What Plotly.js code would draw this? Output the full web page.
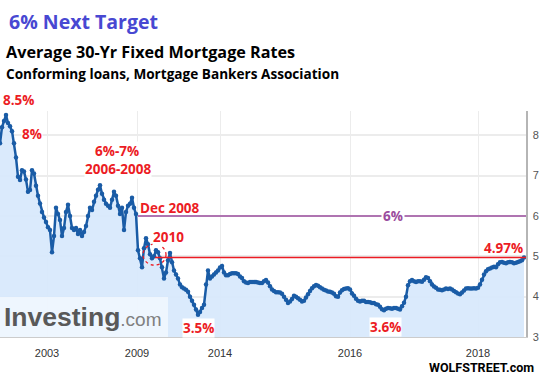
<!DOCTYPE html>
<html>
<head>
<meta charset="utf-8">
<script src="https://cdn.plot.ly/plotly-3.0.1.min.js"></script>
<style>html,body{margin:0;padding:0;background:#fff;}#chart{width:543px;height:382px;}</style>
</head>
<body>
<div id="chart"></div>
<script>
// Average 30-yr fixed mortgage rate (%), samples (evenly spaced along the source's axis)
const rates = [
  7.8, 8.2, 8.35, 8.5, 8.3, 8.22, 8.1, 7.8, 7.45, 6.97,
  6.89, 7.13, 7.1, 6.9, 6.6, 6.64, 7.13, 7.05, 6.75, 6.5,
  6.31, 6.1, 5.96, 5.85, 5.72, 5.65, 5.1, 5.5, 6.2, 6.05,
  5.9, 5.5, 5.7, 6.1, 6.28, 6.0, 5.7, 5.65, 5.7, 5.55,
  5.65, 5.5, 5.6, 5.75, 6.0, 6.2, 6.15, 6.35, 6.5, 6.65,
  6.76, 6.55, 6.4, 6.3, 6.25, 6.2, 6.4, 6.6, 6.5, 6.25,
  6.05, 6.2, 5.65, 6.1, 6.25, 6.3, 6.45, 6.2, 6.05, 5.15,
  4.95, 4.73, 5.2, 5.45, 5.3, 5.05, 4.95, 5.0, 5.15, 5.1,
  4.95, 4.73, 4.45, 4.6, 4.9, 5.08, 4.85, 4.65, 4.55, 4.45,
  4.3, 4.23, 4.2, 4.17, 4.12, 4.0, 3.9, 3.8, 3.68, 3.55,
  3.62, 3.72, 3.8, 4.3, 4.65, 4.45, 4.5, 4.55, 4.6, 4.65,
  4.72, 4.76, 4.6, 4.53, 4.53, 4.56, 4.58, 4.58, 4.58, 4.56,
  4.5, 4.46, 4.38, 4.35, 4.34, 4.36, 4.36, 4.36, 4.36, 4.35,
  4.34, 4.34, 4.38, 4.41, 4.35, 4.26, 4.18, 4.14, 4.11, 4.11,
  4.1, 4.07, 4.0, 3.92, 3.84, 3.88, 3.94, 4.02, 4.0, 3.96,
  3.92, 3.88, 3.9, 3.98, 4.06, 4.14, 4.21, 4.26, 4.29, 4.27,
  4.23, 4.2, 4.17, 4.15, 4.13, 4.12, 4.1, 4.07, 4.01, 4.0,
  4.1, 4.16, 4.19, 4.2, 4.21, 4.18, 4.08, 4.02, 3.95, 3.9,
  3.88, 3.9, 3.9, 3.87, 3.87, 3.86, 3.84, 3.84, 3.81, 3.8,
  3.75, 3.69, 3.66, 3.7, 3.72, 3.71, 3.7, 3.72, 3.72, 3.7,
  3.68, 3.76, 3.85, 4.0, 4.28, 4.38, 4.41, 4.38, 4.36, 4.38,
  4.38, 4.37, 4.42, 4.48, 4.46, 4.38, 4.3, 4.25, 4.22, 4.18,
  4.17, 4.16, 4.18, 4.2, 4.19, 4.2, 4.18, 4.14, 4.11, 4.08,
  4.06, 4.1, 4.15, 4.2, 4.21, 4.2, 4.2, 4.21, 4.2, 4.22,
  4.3, 4.42, 4.55, 4.63, 4.68, 4.7, 4.72, 4.74, 4.73, 4.8,
  4.85, 4.86, 4.84, 4.83, 4.85, 4.86, 4.85, 4.83, 4.84, 4.86,
  4.88, 4.9, 4.97
];
const sampleIdx = rates.map((_, i) => i);

// x-axis year labels and where they fall along the sample sequence
const tickYears = ['2003', '2009', '2014', '2016', '2018'];
const tickIdx = [23.5, 68.5, 110, 175, 239];
const yTicks = [3, 4, 5, 6, 7, 8];

// reference levels
const level6 = 6.0;     // "6%" target line, from Dec 2008
const level5 = 4.97;    // current rate line, from 2010
const dec2008Idx = 69;
const y2010Idx = 77.5;

const RED = '#ec1c24';
const PURPLE = '#9b4c9e';
const FONT = 'Open Sans, Noto Sans, sans-serif';

const trace = {
  x: sampleIdx, y: rates, type: 'scatter', mode: 'lines+markers',
  line: {color: '#1a5ca6', width: 2.5},
  marker: {color: '#1a5ca6', size: 4.5},
  fill: 'tozeroy', fillcolor: 'rgba(216,233,252,0.95)',
  hoverinfo: 'skip'
};

function redLabel(txt, x, y, extra) {
  return Object.assign({x: x, y: y, xref: 'x', yref: 'y', text: '<b>' + txt + '</b>', showarrow: false,
    font: {family: FONT, size: 13.5, color: RED}, bgcolor: '#ffffff', borderpad: 0,
    xanchor: 'center', yanchor: 'middle'}, extra || {});
}

const annotations = [
  {xref: 'paper', yref: 'paper', x: 7/526, y: 1.398, xanchor: 'left', yanchor: 'middle', showarrow: false,
   text: '<b>6% Next Target</b>', font: {family: FONT, size: 19.5, color: '#4848d2'}},
  {xref: 'paper', yref: 'paper', x: 4/526, y: 1.261, xanchor: 'left', yanchor: 'middle', showarrow: false,
   text: '<b>Average 30-Yr Fixed Mortgage Rates</b>', font: {family: FONT, size: 16.2, color: '#000'}},
  {xref: 'paper', yref: 'paper', x: 4/526, y: 1.168, xanchor: 'left', yanchor: 'middle', showarrow: false,
   text: '<b>Conforming loans, Mortgage Bankers Association</b>', font: {family: FONT, size: 13.6, color: '#000'}},
  {xref: 'paper', yref: 'paper', x: 536/526, y: -0.137, xanchor: 'right', yanchor: 'middle', showarrow: false,
   text: '<b>WOLFSTREET.com</b>', font: {family: 'Roboto, Open Sans, sans-serif', size: 12.5, color: '#000'}},
  {xref: 'paper', yref: 'paper', x: 2/526, y: 0.09, xanchor: 'left', yanchor: 'middle', showarrow: false,
   text: '<b>Investing</b><span style="font-weight:normal;font-size:19px;fill:#808080">.com</span>',
   font: {family: 'Liberation Sans, Arial, sans-serif', size: 26.5, color: '#595959'}},
  {xref: 'paper', yref: 'paper', x: 18/526, y: (337-100)/226, xanchor: 'center', yanchor: 'middle', showarrow: false,
   text: '<b>8.5%</b>', font: {family: FONT, size: 13.5, color: RED}},
  redLabel('8%', 16, 8.03),
  redLabel('6%-7%', 58.5, 7.61),
  redLabel('2006-2008', 59, 7.16),
  redLabel('Dec 2008', 85, 6.2, {bgcolor: 'rgba(0,0,0,0)'}),
  redLabel('2010', 84, 5.48),
  redLabel('3.5%', 99, 3.22),
  redLabel('3.6%', 192.5, 3.25),
  redLabel('4.97%', 251.5, 5.2, {bgcolor: 'rgba(0,0,0,0)'}),
  {x: 196.5, y: level6, xref: 'x', yref: 'y', text: '<b>6%</b>', showarrow: false,
   font: {family: FONT, size: 13.5, color: PURPLE}, bgcolor: '#ffffff', borderpad: 1}
];

const shapes = [
  {type: 'rect', xref: 'paper', yref: 'paper', x0: 0, x1: 168/526, y0: 0, y1: 40/226,
   fillcolor: 'rgba(255,255,255,0.55)', line: {width: 0}, layer: 'above'},
  {type: 'line', xref: 'x', yref: 'y', x0: dec2008Idx, x1: 263, y0: level6, y1: level6,
   line: {color: PURPLE, width: 1.5}, layer: 'above'},
  {type: 'line', xref: 'x', yref: 'y', x0: y2010Idx, x1: 263, y0: level5, y1: level5,
   line: {color: RED, width: 1.5}, layer: 'above'},
  {type: 'circle', xref: 'x', yref: 'y', x0: 71.5, x1: 83, y0: 4.78, y1: 5.30,
   line: {color: RED, width: 1.3, dash: 'dot'}, layer: 'above'}
];

const layout = {
  width: 543, height: 382,
  margin: {l: 0, r: 17, t: 111, b: 45},
  paper_bgcolor: '#fff', plot_bgcolor: '#fff',
  showlegend: false,
  xaxis: {
    range: [0, 263], tickmode: 'array', tickvals: tickIdx, ticktext: tickYears,
    showgrid: true, gridcolor: '#ececec', gridwidth: 1,
    showline: true, linecolor: '#cccccc', linewidth: 1,
    zeroline: false, ticks: '', ticklabelstandoff: 6,
    tickfont: {family: 'Liberation Sans, Arial, sans-serif', size: 11, color: '#333'},
    fixedrange: true
  },
  yaxis: {
    range: [3, 8.6], side: 'right', tickmode: 'array', tickvals: yTicks,
    showgrid: true, gridcolor: '#ececec', gridwidth: 2,
    showline: true, linecolor: '#b5b5b5', linewidth: 1.5, mirror: false,
    zeroline: false, ticks: '', ticklabelstandoff: 3,
    tickfont: {family: 'Liberation Sans, Arial, sans-serif', size: 11, color: '#555'},
    fixedrange: true
  },
  annotations: annotations,
  shapes: shapes
};

Plotly.newPlot('chart', [trace], layout, {displayModeBar: false, staticPlot: true});
</script>
</body>
</html>
